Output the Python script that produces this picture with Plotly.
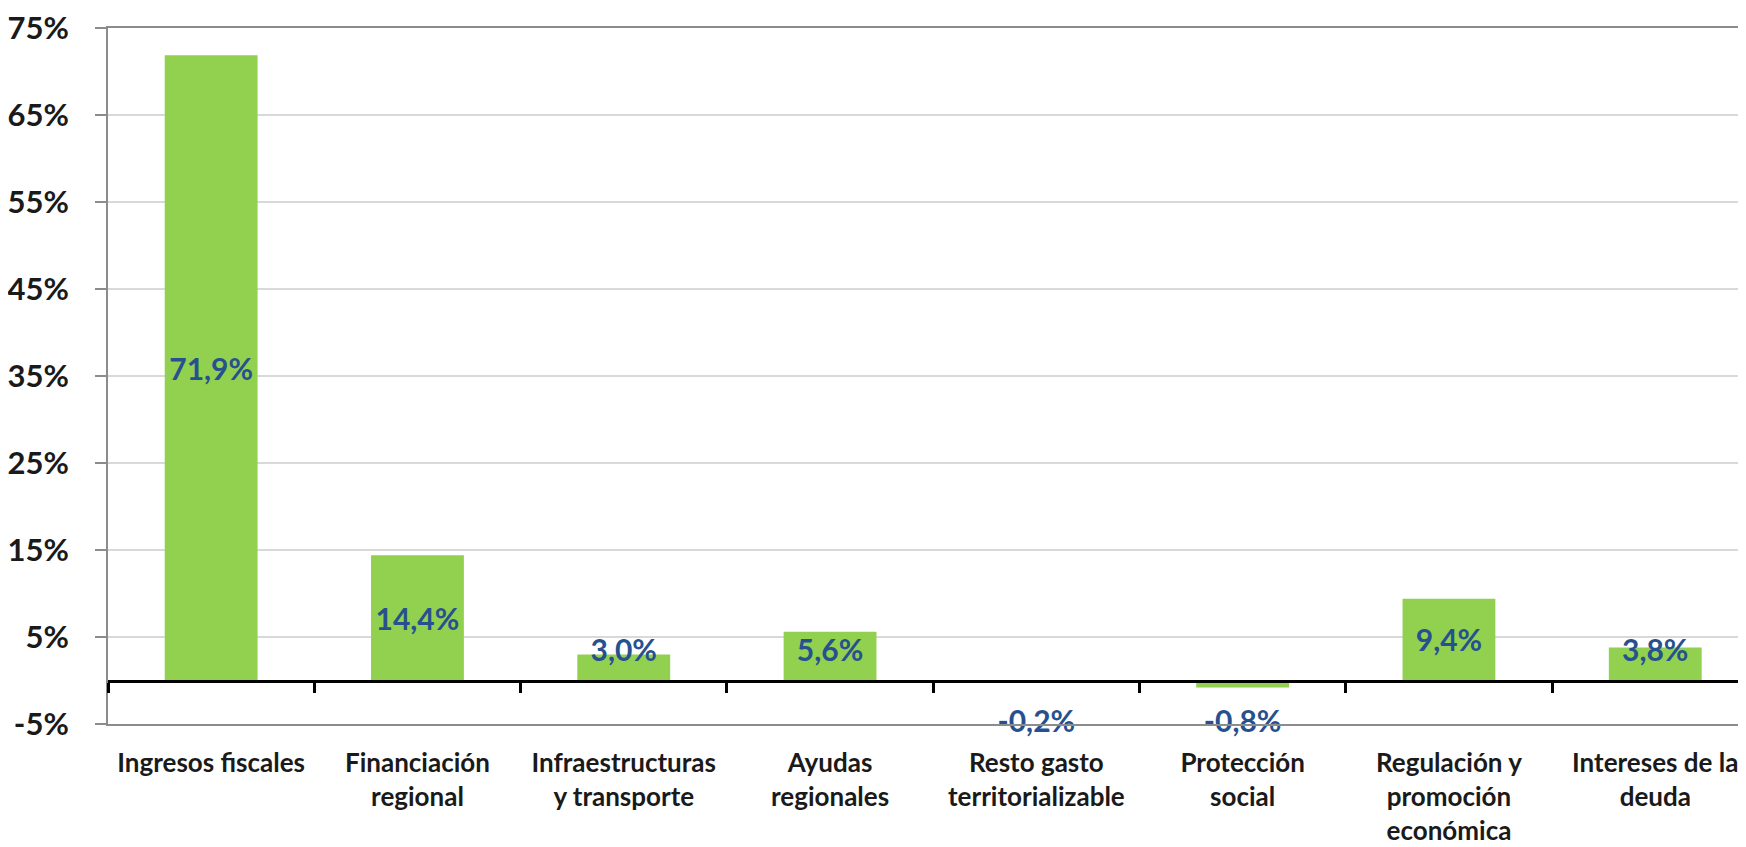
import plotly.graph_objects as go

categories = [
    "Ingresos fiscales",
    "Financiación<br>regional",
    "Infraestructuras<br>y transporte",
    "Ayudas<br>regionales",
    "Resto gasto<br>territorializable",
    "Protección<br>social",
    "Regulación y<br>promoción<br>económica",
    "Intereses de la<br>deuda",
]
values = [71.9, 14.4, 3.0, 5.6, -0.2, -0.8, 9.4, 3.8]
y_ticks = [-5, 5, 15, 25, 35, 45, 55, 65, 75]
y_tick_text = [f"{t}%" for t in y_ticks]

Y_MIN, Y_MAX = -5, 75
PAGE_OFFSET = 8          # default body margin of the html page
W, H = 1746 - PAGE_OFFSET, 847 - PAGE_OFFSET
L, T, B = 100, 20, 123
n = len(categories)
cat_px = 206.3
x_right = -0.5 + (W - L) / cat_px

FONT = "Lato"
BAR_COLOR = "#92D050"
LABEL_COLOR = "#27508F"


def fmt(v):
    return f"{v:.1f}".replace(".", ",") + "%"


label_y = []
for v in values:
    if v >= 0:
        label_y.append(max(v / 2, 3.6) - 0.5)
    else:
        label_y.append(Y_MIN)

fig = go.Figure()
fig.add_trace(go.Bar(
    x=categories, y=values, width=0.45,
    marker=dict(color=BAR_COLOR, line=dict(width=0)),
    hoverinfo="skip", showlegend=False,
))
fig.add_trace(go.Scatter(
    x=categories, y=label_y, mode="text",
    text=[fmt(v) for v in values],
    textposition="middle center",
    textfont=dict(family=FONT, size=30, color=LABEL_COLOR, weight="bold"),
    cliponaxis=False,
    hoverinfo="skip", showlegend=False,
))
# invisible trace on xaxis2 to carry the zero-line tick marks
fig.add_trace(go.Bar(
    x=categories, y=[0] * n, xaxis="x2", yaxis="y",
    marker=dict(color="rgba(0,0,0,0)"), hoverinfo="skip", showlegend=False,
))

fig.update_layout(
    width=W, height=H,
    margin=dict(l=L, r=0, t=T, b=B),
    paper_bgcolor="white", plot_bgcolor="white",
    separators=",.",
    bargap=0.55,
    xaxis=dict(
        type="category", range=[-0.5, x_right], automargin=False,
        showline=True, linecolor="#8C8C8C", linewidth=2, mirror=True,
        ticks="", showgrid=False, zeroline=False,
        tickfont=dict(family=FONT, size=26, color="#1A1A1A", weight="bold"),
        ticklabelstandoff=15,
    ),
    xaxis2=dict(
        type="category", range=[-0.5, x_right], automargin=False,
        overlaying="x", anchor="free",
        position=(0 - Y_MIN) / (Y_MAX - Y_MIN),
        showline=True, linecolor="#000000", linewidth=3,
        ticks="outside", tickson="boundaries", ticklen=10, tickwidth=3,
        tickcolor="#000000", showticklabels=False, showgrid=False,
        zeroline=False,
    ),
    yaxis=dict(
        range=[Y_MIN, Y_MAX + 0.02], automargin=False,
        tickvals=y_ticks, ticktext=y_tick_text,
        showline=True, linecolor="#8C8C8C", linewidth=2,
        ticks="outside", ticklen=11, tickwidth=2, tickcolor="#8C8C8C",
        showgrid=True, gridcolor="#D9D9D9", gridwidth=2,
        zeroline=False,
        tickfont=dict(family=FONT, size=31, color="#1A1A1A", weight="bold"),
        ticklabelstandoff=20,
    ),
)

fig.write_html("out.html")
